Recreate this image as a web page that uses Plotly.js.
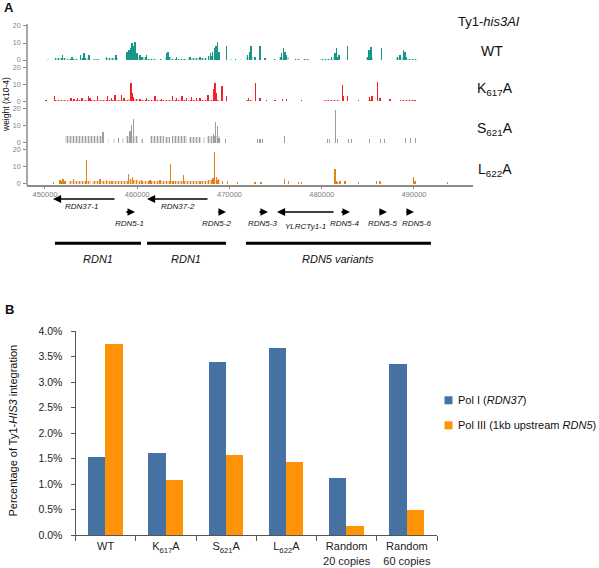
<!DOCTYPE html>
<html><head><meta charset="utf-8">
<script src="https://cdn.plot.ly/plotly-3.0.1.min.js"></script>
<style>html,body{margin:0;padding:0;background:#fff;} #chart{width:599px;height:568px;}</style>
</head><body><div id="chart"></div>
<script>
// ================= Panel A data (chromosome position in kb, weight x10-4) =================
const trackNames = ['WT', 'K<sub>617</sub>A', 'S<sub>621</sub>A', 'L<sub>622</sub>A'];
const axisTickKb = [450, 460, 470, 480, 490];
const axisTickText = ['450000', '460000', '470000', '480000', '490000'];
const weightTicks = [0, 10, 20];

// WT
const wtPos = [451.92,452.93,453.87,454.23,454.77,456.69,457.70,458.89,459.11,459.32,
               459.43,459.57,459.76,459.97,460.30,460.48,461.02,463.19,463.33,464.28,
               465.72,466.80,467.96,468.18,468.35,468.54,468.72,468.86,469.70,471.93,
               472.22,472.33,472.76,473.31,473.85,475.66,475.83,476.02,476.20,481.08,
               481.44,481.62,481.87,482.77,485.12,485.34,486.50,488.48,488.84,489.02];
const wtH   = [3,2,3,4,3,2,3,5,6,7,
               10,8,10.5,4,3,2,3,4,5,2,
               2,2,4,5,7,8,10.5,5,8.5,3,
               5,8,2,8.5,1,4,7,5,3,2,
               4,7,3,8,6,7.5,7,3,6,5];
const wtBandStart = [450.20,451.08,452.38,453.79,455.20,456.50,458.78,460.08,460.95,462.47,463.01,463.77,465.50,467.67,470.05,470.60,471.10,471.79,473.00,474.80,475.37,477.10,477.97,479.81,481.22,484.80,488.05,489.24];
const wtBandEnd   = [450.40,452.28,453.58,454.66,455.96,457.91,460.08,460.95,462.03,462.68,463.77,465.39,467.56,468.97,470.27,470.70,471.20,472.55,473.10,475.00,476.45,477.64,478.73,481.22,481.98,485.56,489.24,490.33];
const wtBandH     = [0.5,1,0.8,1,0.8,1,2.5,1.5,0.8,0.5,1.5,0.8,1,2.5,0.5,0.5,0.5,1.5,0.5,0.5,1.5,0.5,0.5,0.8,1.5,1.5,1.5,0.7];

// K617A
const kPos = [450.11,451.01,452.82,453.14,453.50,454.01,454.69,454.88,455.71,456.75,
              457.23,457.59,458.31,458.56,459.32,459.43,459.57,460.30,461.02,461.92,
              462.65,463.80,464.28,464.85,465.36,465.90,466.44,466.80,467.67,468.24,
              468.43,468.61,469.19,469.70,472.04,472.84,473.31,474.03,474.93,475.77,
              476.20,477.83,482.23,482.34,482.81,483.96,485.15,485.45,486.02,486.31,
              487.40,488.84,489.21,490.11];
const kH   = [0.5,3,2,1.5,2,2,3,2,3,3,
              2,4,4,2,10.5,5,2.5,1.5,2,3,
              1.5,3,2,3,2,2.5,2,2,4,7,
              10.5,5,9,3,2,10.5,2,1,1,1.5,
              1.5,1,9.5,3,3,0.5,2.5,3,11.5,2,
              1.5,1,1,1];
const kBandStart = [451.08,452.38,454.88,459.00,460.08,465.50,471.80,480.14,481.44,485.00,488.50];
const kBandEnd   = [452.28,454.66,459.00,460.08,465.39,468.97,472.60,481.44,482.00,485.60,490.20];
const kBandH     = [1,0.8,0.8,1.5,0.8,1,0.6,0.7,1,0.8,0.6];

// S621A
const sPos = [456.29,459.21,459.39,459.57,468.29,468.50,468.68,468.86,469.60,473.05,
              473.30,473.55,475.98,480.60,480.85,481.51,481.70,482.90,483.20,485.20,
              486.40,486.80,489.10,489.60,490.20];
const sH   = [6,7,10.5,14,5,12,10,3,2,2,
              2,2,4,2,2,19,2,2,2,2,
              2,2,2.5,2.5,3];
const sBandStart = [452.17,456.80,457.40,457.90,458.30,458.78,460.40,461.38,463.00,463.80,465.60,467.10,467.60];
const sBandEnd   = [456.20,456.95,457.55,458.05,458.60,460.08,460.60,462.90,463.60,465.40,466.90,467.40,469.00];
const sBandH     = [4,2,2,2.5,2.5,4,2,4,3.5,4,3.5,3.5,4];

// L622A
const lPos = [450.90,451.63,451.95,452.17,453.07,454.52,455.96,456.69,457.23,459.03,
              459.29,459.51,460.48,461.38,462.47,463.63,463.91,464.99,466.80,468.21,
              468.35,468.61,468.79,469.22,469.81,470.85,472.76,473.41,475.94,476.37,
              477.46,477.83,481.44,481.62,481.98,482.52,483.96,485.96,486.31,489.92,
              490.11,493.65];
const lH   = [1,2.5,3,2,3,14,3,2.5,2,6,
              3,4,2.5,2.5,2.5,11.5,2,5,2,3.5,
              19,4,3,1.5,1.5,1,1,1,3,1.5,
              1,1,8.5,2,2,1.5,1,1.5,1.5,4,
              1.5,1];
const lBandStart = [451.50,452.60,455.10,459.00,460.10,467.60,481.30];
const lBandEnd   = [452.30,455.00,459.00,460.10,467.60,469.00,481.90];
const lBandH     = [1.5,1.5,1.5,2.5,1.5,2.5,1];

// Gene annotation (kb): arrows run from start to end (direction of transcription)
const geneNames = ['RDN37-1','RDN5-1','RDN37-2','RDN5-2','RDN5-3','YLRCTy1-1','RDN5-4','RDN5-5','RDN5-6'];
const geneStart = [457.70,458.67,467.78,468.64,473.09,481.44,481.98,486.10,489.02];
const geneEnd   = [450.87,459.76,461.06,469.62,474.17,475.15,483.06,487.07,490.00];
const regionNames = ['RDN1','RDN1','RDN5 variants'];
const regionStart = [451.08,461.06,471.79];
const regionEnd   = [460.41,469.62,491.84];

// ================= Panel B data =================
const groups = ['WT','K<sub>617</sub>A','S<sub>621</sub>A','L<sub>622</sub>A','Random<br>20 copies','Random<br>60 copies'];
const polI   = [1.53,1.60,3.39,3.67,1.11,3.36];
const polIII = [3.75,1.08,1.57,1.43,0.18,0.49];
const seriesNames = ['Pol I (<i>RDN37</i>)','Pol III (1kb upstream <i>RDN5</i>)'];
const yTicksB = [0,0.5,1,1.5,2,2.5,3,3.5,4];

// ================= Styles / layout helpers =================
const W = 599, H = 568;
const fx = v => v / W;
const fy = v => 1 - v / H;
const FONT = 'Liberation Sans, Arial, Helvetica, sans-serif';
const trackColors = ['#17978a', '#f51f28', '#9e9e9e', '#e3801a'];
const seriesColors = ['#4672a3', '#fe9308'];
const greyAxis = '#8a8a8a';
// label nudges (pixels) for crowded gene labels
const geneLabelNudge = {'RDN37-1': -3.5, 'RDN5-2': -4.5, 'RDN5-6': 7.5};

const tracks = [
  {pos: wtPos, h: wtH, bs: wtBandStart, be: wtBandEnd, bh: wtBandH},
  {pos: kPos,  h: kH,  bs: kBandStart,  be: kBandEnd,  bh: kBandH},
  {pos: sPos,  h: sH,  bs: sBandStart,  be: sBandEnd,  bh: sBandH},
  {pos: lPos,  h: lH,  bs: lBandStart,  be: lBandEnd,  bh: lBandH}
];

const xRange = [448.05, 496.40];
const xDomPx = [27, 473];
const kbPerPx = (xRange[1] - xRange[0]) / (xDomPx[1] - xDomPx[0]);

const data = [];
const layout = {
  width: W, height: H,
  margin: {l: 0, r: 0, t: 0, b: 0},
  paper_bgcolor: '#ffffff', plot_bgcolor: 'rgba(0,0,0,0)',
  showlegend: false, barmode: 'overlay', bargap: 0,
  font: {family: FONT, color: '#222'},
  xaxis: {
    domain: [fx(xDomPx[0]), fx(xDomPx[1])], range: xRange, anchor: 'y4',
    showline: true, linecolor: greyAxis, linewidth: 1.5,
    ticks: 'outside', ticklen: 2, tickcolor: greyAxis, tickwidth: 1, ticklabelstandoff: -1,
    tickvals: axisTickKb, ticktext: axisTickText,
    tickfont: {size: 7.5, color: '#808080', family: FONT},
    showgrid: false, zeroline: false, fixedrange: true
  },
  annotations: [],
  shapes: []
};

function txt(xp, yp, text, size, extra) {
  return Object.assign({xref: 'paper', yref: 'paper', x: fx(xp), y: fy(yp), text: text, showarrow: false,
    xanchor: 'center', yanchor: 'middle', font: {size: size, color: '#111', family: FONT}}, extra || {});
}

tracks.forEach((t, i) => {
  const yName = i === 0 ? 'y' : 'y' + (i + 1);
  const yKey = i === 0 ? 'yaxis' : 'yaxis' + (i + 1);
  const topPx = 23.6 + 41.3 * i, botPx = 61.4 + 41.3 * i;
  layout[yKey] = {
    domain: [fy(botPx), fy(topPx)], range: [-0.8, 21.4], anchor: 'x',
    tickvals: weightTicks, ticks: 'outside', ticklen: 3, tickcolor: greyAxis, ticklabelstandoff: 1,
    tickfont: {size: 7, color: '#808080', family: FONT},
    showline: false, showgrid: false, zeroline: false, fixedrange: true
  };
  // dense low-level insertion background (comb-like)
  data.push({
    type: 'bar', xaxis: 'x', yaxis: yName,
    x: t.bs.map((s, j) => (s + t.be[j]) / 2), y: t.bh,
    width: t.bs.map((s, j) => t.be[j] - s),
    marker: {color: 'rgba(0,0,0,0)', line: {width: 0},
      pattern: {shape: '|', size: 3, solidity: 0.55, fgcolor: trackColors[i], bgcolor: 'rgba(255,255,255,0)', fillmode: 'replace'}},
    hoverinfo: 'skip', showlegend: false
  });
  data.push({
    type: 'bar', xaxis: 'x', yaxis: yName, x: t.pos, y: t.h, width: 0.13,
    marker: {color: trackColors[i], line: {width: 0}},
    showlegend: false
  });
  const labelY = [51, 89.5, 128.5, 169.5][i];
  layout.annotations.push(txt(i === 0 ? 492 : 495, labelY, trackNames[i], 14));
});

// continuous y-axis line for the stacked tracks
layout.shapes.push({type: 'line', xref: 'paper', yref: 'paper', x0: fx(27), x1: fx(27), y0: fy(24), y1: fy(185.5),
  line: {color: greyAxis, width: 1.5}});

// Panel A texts
layout.annotations.push(
  txt(9, 8, '<b>A</b>', 13),
  txt(489, 22, 'Ty1-<i>his3AI</i>', 13),
  txt(6, 105, 'weight (x10-4)', 8.5, {textangle: -90})
);

// Gene arrows and labels
geneNames.forEach((g, i) => {
  const longRow = g.indexOf('RDN37') === 0;
  const arrowY = longRow ? 199 : 212;
  const isLong = Math.abs(geneEnd[i] - geneStart[i]) > 3;
  layout.annotations.push({
    xref: 'x', yref: 'paper', x: geneEnd[i], y: fy(arrowY),
    axref: 'x', ayref: 'pixel', ax: geneStart[i], ay: 0,
    text: '', showarrow: true, arrowhead: 2,
    arrowwidth: isLong ? 1.3 : 2.2, arrowsize: isLong ? 1.25 : 0.68,
    arrowcolor: '#000'
  });
  const labelY = longRow ? 206.5 : (g === 'YLRCTy1-1' ? 226.5 : 224);
  const nudge = (geneLabelNudge[g] || 0) * kbPerPx;
  layout.annotations.push({
    xref: 'x', yref: 'paper', x: (geneStart[i] + geneEnd[i]) / 2 + nudge, y: fy(labelY),
    text: '<i>' + g + '</i>', showarrow: false, xanchor: 'center', yanchor: 'middle',
    font: {size: 8, color: '#111', family: FONT}
  });
});

// Region bars
regionNames.forEach((r, i) => {
  layout.shapes.push({type: 'line', xref: 'x', yref: 'paper', x0: regionStart[i], x1: regionEnd[i], y0: fy(243.3), y1: fy(243.3),
    line: {color: '#000', width: 3}});
  layout.annotations.push({
    xref: 'x', yref: 'paper', x: (regionStart[i] + regionEnd[i]) / 2, y: fy(259),
    text: '<i>' + r + '</i>', showarrow: false, xanchor: 'center', yanchor: 'middle',
    font: {size: 11, color: '#111', family: FONT}
  });
});

// ================= Panel B =================
data.push({
  type: 'bar', xaxis: 'x2', yaxis: 'y5', x: groups, y: polI, name: seriesNames[0],
  offset: -0.29, width: 0.285, marker: {color: seriesColors[0], line: {width: 0}}, showlegend: false
});
data.push({
  type: 'bar', xaxis: 'x2', yaxis: 'y5', x: groups, y: polIII, name: seriesNames[1],
  offset: -0.005, width: 0.285, marker: {color: seriesColors[1], line: {width: 0}}, showlegend: false
});

layout.xaxis2 = {
  domain: [fx(75.5), fx(437)], anchor: 'y5', type: 'category', range: [-0.5, 5.5],
  showline: true, linecolor: '#555', linewidth: 1,
  ticks: 'outside', tickson: 'boundaries', ticklen: 5, tickcolor: '#555', ticklabelstandoff: 1,
  tickfont: {size: 11, color: '#222', family: FONT},
  showgrid: false, zeroline: false, fixedrange: true
};
layout.yaxis5 = {
  domain: [fy(535), fy(331)], anchor: 'x2', range: [0, 4],
  tickvals: yTicksB, ticktext: yTicksB.map(v => v.toFixed(1) + '%'),
  showline: true, linecolor: '#555', linewidth: 1,
  ticks: 'outside', ticklen: 4, tickcolor: '#555', ticklabelstandoff: 6,
  tickfont: {size: 10.5, color: '#222', family: FONT},
  showgrid: false, zeroline: false, fixedrange: true
};

layout.annotations.push(
  txt(9, 309, '<b>B</b>', 13),
  txt(12.5, 431, 'Percentage of Ty1-<i>HIS3</i> integration', 11, {textangle: -90})
);

// Manual legend
seriesNames.forEach((s, i) => {
  const cy = 400.3 + 25 * i;
  layout.shapes.push({type: 'rect', xref: 'paper', yref: 'paper', x0: fx(444.5), x1: fx(452.5), y0: fy(cy + 4), y1: fy(cy - 4),
    fillcolor: seriesColors[i], line: {width: 0}});
  layout.annotations.push(txt(456, cy, s, 11, {xanchor: 'left'}));
});

Plotly.newPlot('chart', data, layout, {staticPlot: true, displayModeBar: false});
</script>
</body></html>
